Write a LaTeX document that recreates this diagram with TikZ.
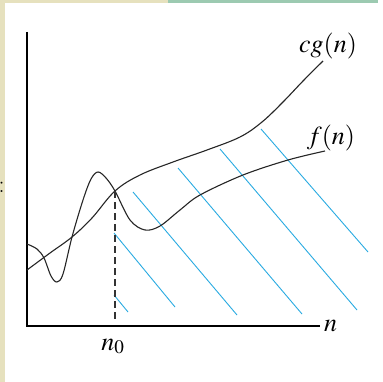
\documentclass[tikz,border=0pt]{standalone}
\usepackage{mathptmx}
\definecolor{hatch}{HTML}{29ABE2}
\definecolor{slidebg}{HTML}{E6E1BE}
\definecolor{slidebar}{HTML}{9CCAB1}
\usetikzlibrary{positioning}

\begin{document}
\begin{tikzpicture}[x=1pt,y=-1pt,
    curve/.style={black!85,line width=1.1pt},
    axis/.style={black,line width=1.3pt},
    hatchline/.style={hatch,line width=0.9pt},
    lbl/.style={font=\fontsize{26}{28}\selectfont,inner sep=0pt},
  ]
    \useasboundingbox (0,0) rectangle (382,382);
    % slide background
    \fill[white] (0,0) rectangle (382,382);
    \fill[slidebg] (0,0) rectangle (5,382);
    \fill[slidebg] (0,0) rectangle (168,3.5);
    \fill[slidebar] (168,0) rectangle (378,3.5);
    \node[font=\fontsize{24}{26}\selectfont\bfseries,inner sep=0pt] (colon) at (1.5,187) {:};

    % axes
    \coordinate (origin) at (27,326);
    \coordinate (ytop) at (27,32);
    \coordinate (xend) at (320,326);
    \draw[axis] (ytop) -- (origin) -- (xend);
    \node[lbl,anchor=west] (n) at ([xshift=4pt]xend) {$n$};

    % region n >= n0
    \foreach \xa/\ya/\xb/\yb in {114/295/128/312, 114/233/175/307, 133/192/237/315,
                       178/168/302/314, 220/149/357/310, 261/129/368/252}
      {\draw[hatchline] (\xa,\ya) -- (\xb,\yb);}

    % c g(n)
    \draw[curve] plot[smooth,tension=0.6] coordinates {
      (27,270) (50,253) (72,237) (92,218) (115,191) (140,175) (173,162)
      (207,150) (240,137) (262,122) (283,102) (303,81) (323,61)};
    % f(n)
    \draw[curve] plot[smooth,tension=0.55] coordinates {
      (27,244) (37,249) (44,258) (51,276) (57,282) (63,274) (72,237)
      (83,200) (91,179) (98,172) (106,178) (115,191) (130,220) (145,230)
      (160,226) (180,210) (200,195) (243,175) (288,160) (325,151)};

    \coordinate (cross) at (115,191);
    \coordinate (dashend) at (115,320);
    \draw[black!80,line width=1.1pt,dash pattern=on 7pt off 4pt] (cross) -- (dashend);

    \node[lbl] (cglab) at (328,46) {$cg(n)$};
    \node[lbl] (flab) at (331,138) {$f(n)$};
    \node[lbl,anchor=base] (nzero) at (113,350) {$n_0$};
  \end{tikzpicture}
\end{document}
